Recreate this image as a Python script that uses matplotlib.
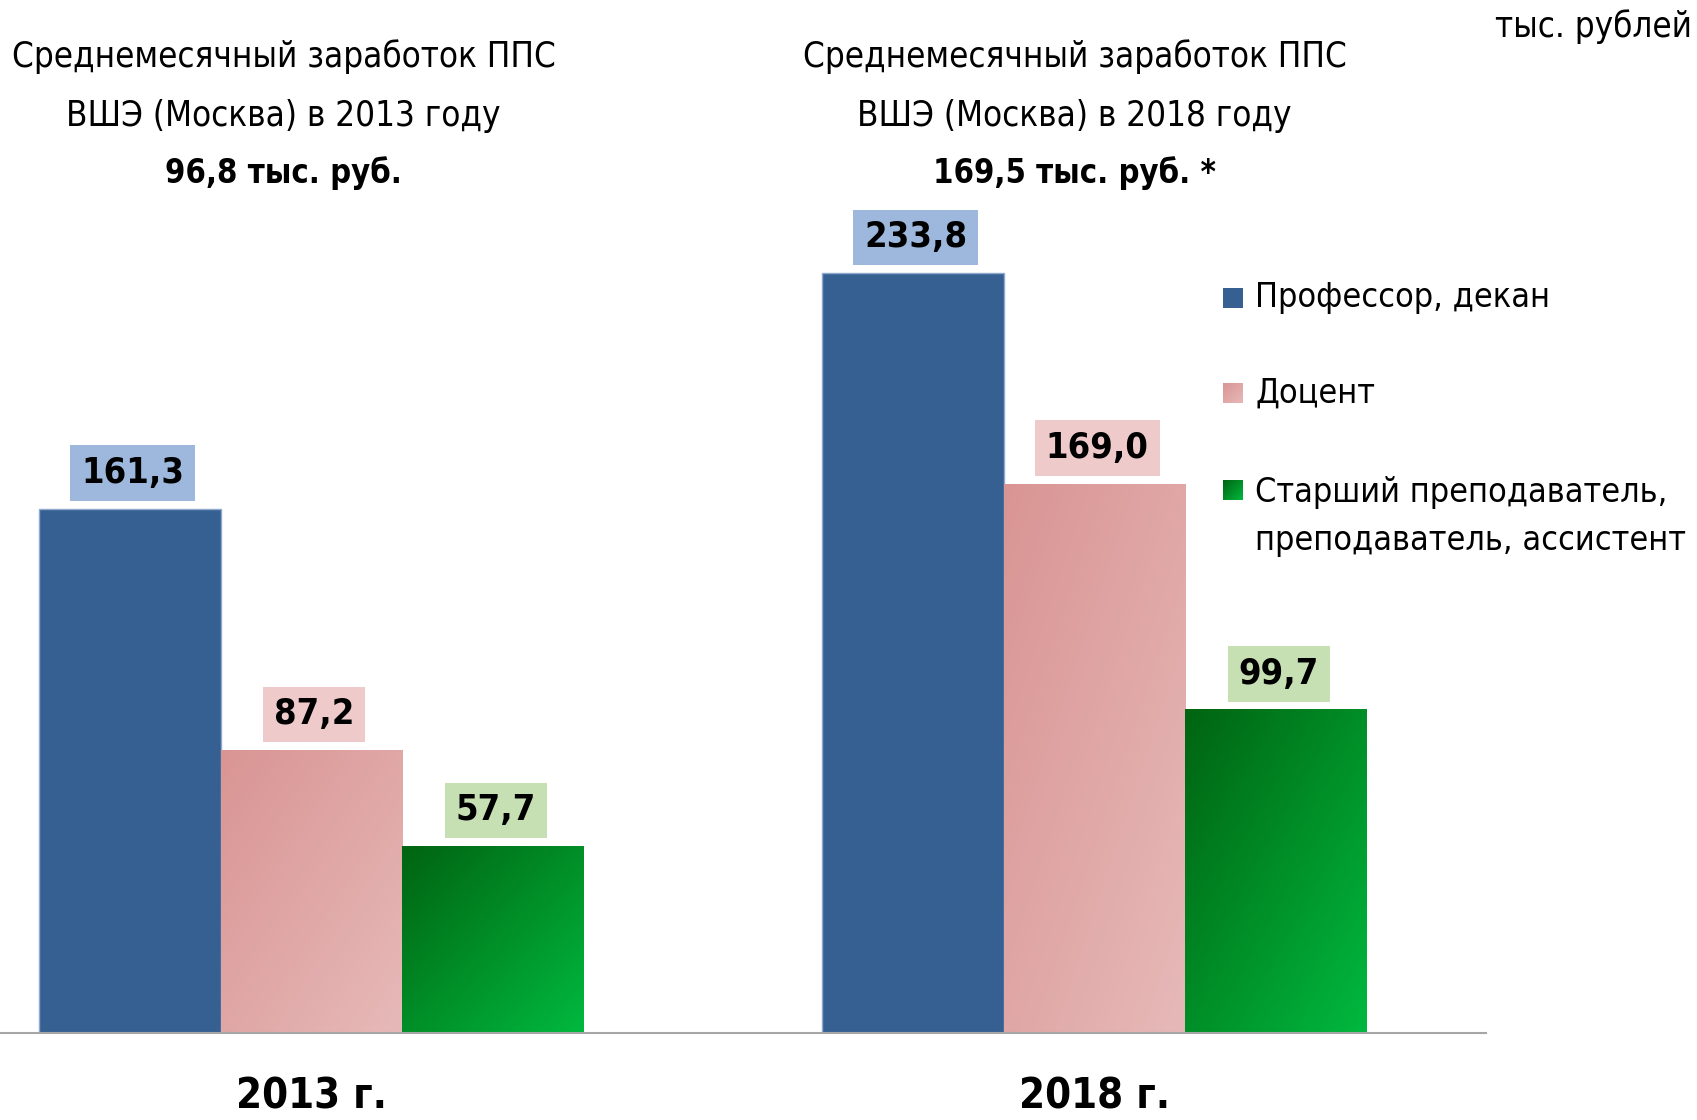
#!/usr/bin/env python
# -*- coding: utf-8 -*-

import numpy as np
import matplotlib
matplotlib.use("Agg")
import matplotlib.pyplot as plt
from matplotlib.colors import LinearSegmentedColormap

plt.rcParams['font.family'] = ['DejaVu Sans']
plt.rcParams['font.stretch'] = 'condensed'

years = ['2013 г.', '2018 г.']
series = ['Профессор, декан', 'Доцент',
          'Старший преподаватель,\nпреподаватель, ассистент']
professor = [161.3, 233.8]
docent = [87.2, 169.0]
senior = [57.7, 99.7]
average = ['96,8', '169,5']
title_years = ['2013', '2018']
title_marks = ['', ' *']

bar_colors = ['#376092', ('#D99594', '#E6B9B8'), ('#006411', '#00B83E')]
box_colors = ['#9DB8DC', '#EFCACA', '#C6E0B4']


def gradient_img(c1, c2):
    cmap = LinearSegmentedColormap.from_list('g', [c1, c2])
    u = np.linspace(0, 1, 64)
    v = np.linspace(0, 1, 64)
    uu, vv = np.meshgrid(u, v)
    return cmap((uu + vv) / 2)


def main():
    fig = plt.figure(figsize=(16.97, 11.2), dpi=100)
    ax = fig.add_axes([0, 0.0773, 0.8756, 0.8715])

    x = np.arange(len(years))
    w = 0.232
    values = [professor, docent, senior]
    offsets = [-w, 0, w]

    for vals, off, col, bcol in zip(values, offsets, bar_colors, box_colors):
        if isinstance(col, tuple):
            bars = ax.bar(x + off, vals, w, color=col[0], linewidth=0)
            img = gradient_img(*col)
            for b in bars:
                x0, y0 = b.get_x(), b.get_y()
                im = ax.imshow(img, extent=[x0, x0 + b.get_width(), y0, y0 + b.get_height()],
                               aspect='auto', zorder=2, interpolation='bilinear')
                im.set_clip_path(b)
        else:
            bars = ax.bar(x + off, vals, w, color=col, edgecolor='#8FAAD0',
                          linewidth=1, zorder=2)
        for b, v in zip(bars, vals):
            ax.annotate(f'{v:.1f}'.replace('.', ','),
                        (b.get_x() + b.get_width() / 2, v),
                        xytext=(2, 13.2), textcoords='offset points',
                        ha='center', va='bottom', fontsize=26, fontweight='bold',
                        bbox=dict(boxstyle='square,pad=0.3', fc=bcol, ec='none'),
                        zorder=4)

    ax.set_xlim(-0.398, 1.5)
    ax.set_ylim(0, 300)
    ax.set_xticks(x)
    ax.set_xticklabels(years, fontsize=30, fontweight='bold')
    ax.tick_params(axis='x', length=0, pad=30)
    ax.set_yticks([])
    for s in ['top', 'right', 'left']:
        ax.spines[s].set_visible(False)
    ax.spines['bottom'].set_color('#A6A6A6')
    ax.spines['bottom'].set_linewidth(1.5)

    # titles above each group
    for cx, yr, avg, mark in zip([0.1671, 0.6333], title_years, average, title_marks):
        fig.text(cx, 0.9497, 'Среднемесячный заработок ППС', ha='center', va='center', fontsize=25)
        fig.text(cx, 0.8966, f'ВШЭ (Москва) в {yr} году', ha='center', va='center', fontsize=25)
        fig.text(cx, 0.8454, f'{avg} тыс. руб.{mark}', ha='center', va='center',
                 fontsize=23.5, fontweight='bold')

    fig.text(0.9968, 0.976, 'тыс. рублей', ha='right', va='center', fontsize=25)

    # legend
    rows = [0.7343, 0.6492, 0.5622]
    sq = 20 / 1697
    sqh = 20 / 1120
    for name, col, ry in zip(series, bar_colors, rows):
        lax = fig.add_axes([0.7207, ry - sqh / 2, sq, sqh])
        lax.axis('off')
        if isinstance(col, tuple):
            lax.imshow(gradient_img(*col), aspect='auto', extent=[0, 1, 0, 1])
        else:
            lax.imshow(np.array([[matplotlib.colors.to_rgba(col)]]), aspect='auto', extent=[0, 1, 0, 1])
        if '\n' in name:
            fig.text(0.7398, ry + 0.0125, name, ha='left', va='top', fontsize=24.5, linespacing=1.55)
        else:
            fig.text(0.7398, ry, name, ha='left', va='center', fontsize=24.5)

    fig.savefig('out.png', dpi=100)


if __name__ == '__main__':
    main()
